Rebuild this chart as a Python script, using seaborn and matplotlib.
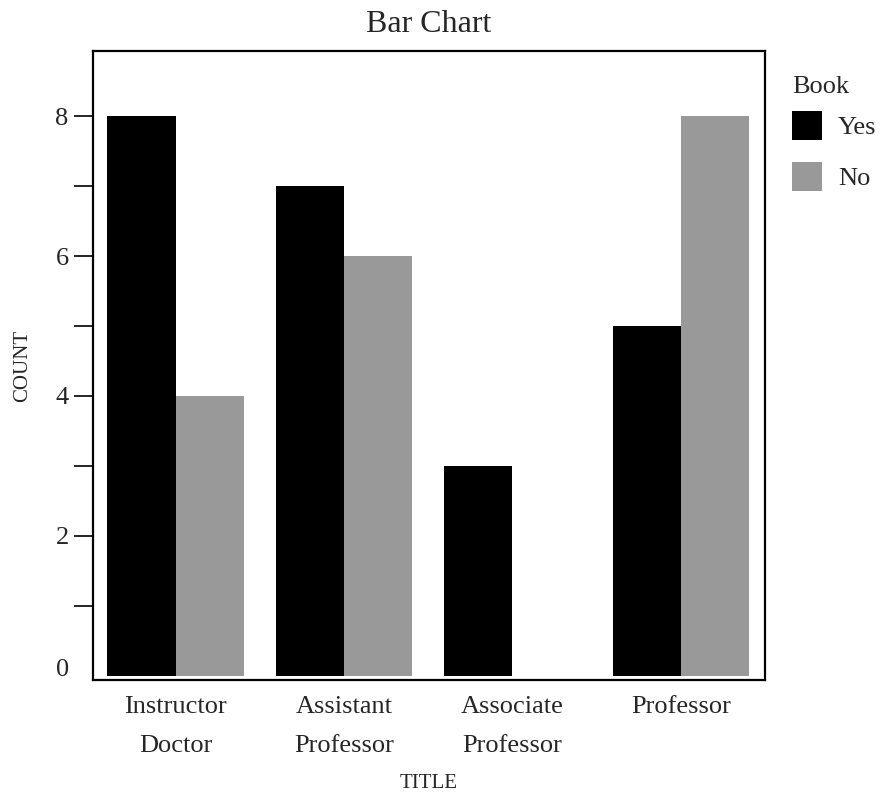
import matplotlib
matplotlib.use("Agg")
import matplotlib.pyplot as plt
import matplotlib.transforms as mtransforms
import seaborn as sns
import pandas as pd

categories = ["Instructor\nDoctor", "Assistant\nProfessor", "Associate\nProfessor", "Professor"]
yes_counts = [8, 7, 3, 5]
no_counts = [4, 6, 0, 8]
hue_levels = ["Yes", "No"]
y_ticks = [0, 1, 2, 3, 4, 5, 6, 7, 8]
y_labels = ["0", "", "2", "", "4", "", "6", "", "8"]

df = pd.DataFrame({
    "TITLE": categories * 2,
    "COUNT": yes_counts + no_counts,
    "Book": ["Yes"] * len(categories) + ["No"] * len(categories),
})

sns.set_theme(style="white")
plt.rcParams["font.family"] = ["Liberation Serif", "DejaVu Serif"]

fig = plt.figure(figsize=(8.82, 7.96), dpi=100)
ax = fig.add_axes([93/882, 1 - 680/796, (765-93)/882, (680-51)/796])

sns.barplot(data=df, x="TITLE", y="COUNT", hue="Book", hue_order=hue_levels,
            order=categories, palette={"Yes": "#000000", "No": "#999999"},
            width=0.81, saturation=1, linewidth=0, ax=ax, legend=True)

ax.set_xlim(-0.49, 3.5)
ax.set_ylim(-0.06, 8.93)
ax.set_yticks(y_ticks)
ax.set_yticklabels(y_labels, fontsize=19)
ax.tick_params(axis="y", direction="out", length=14, width=1.2, pad=3.5, left=True, color="black")
ax.tick_params(axis="x", length=0, pad=11.5, labelsize=19)
for lbl in ax.get_xticklabels():
    lbl.set_linespacing(2.0)
    lbl.set_verticalalignment("top")
ax.yaxis.get_major_ticks()[0].tick1line.set_visible(False)
zero_lbl = ax.get_yticklabels()[0]
zero_lbl.set_transform(zero_lbl.get_transform() +
                       mtransforms.ScaledTranslation(0, 8/100, fig.dpi_scale_trans))

for s in ax.spines.values():
    s.set_visible(True)
    s.set_color("black")
    s.set_linewidth(1.6)

ax.set_xlabel("TITLE", fontsize=15, labelpad=12)
ax.set_ylabel("COUNT", fontsize=15, labelpad=17)
ax.set_title("Bar Chart", fontsize=23, pad=14)

leg = ax.legend(title="Book", loc="upper left", bbox_to_anchor=(1.005, 0.998),
                frameon=False, fontsize=19, title_fontsize=19,
                handlelength=1.14, handleheight=1.35, labelspacing=0.8, handletextpad=0.6)
leg._legend_box.align = "left"
leg._legend_box.sep = 0.8 * 19 - 6

fig.savefig("out.png", dpi=100)
